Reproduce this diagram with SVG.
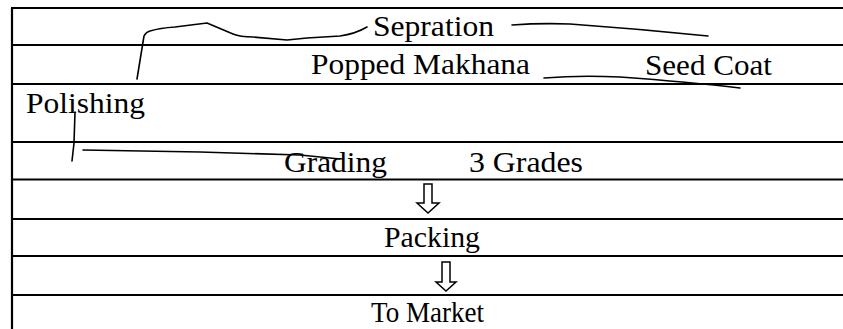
<svg xmlns="http://www.w3.org/2000/svg" width="843" height="329" viewBox="0 0 843 329">
<style>
.t{font-family:"Liberation Serif","Times New Roman",serif;font-size:29px;fill:#000}
.rule{stroke:#000;stroke-width:2.2;fill:none}
.pen{stroke:#000;stroke-width:1.6;fill:none;stroke-linecap:round;stroke-linejoin:round}
.arr{stroke:#000;stroke-width:1.5;fill:#fff;stroke-linejoin:miter}
</style>
<rect width="843" height="329" fill="#fff"/>
<g id="table">
<path class="rule" d="M12 8V329M11 8H843M11 45H843M11 84H843M11 142H843M11 179.5H843M11 219H843M11 256H843M11 295H843"/>
</g>
<g id="sepration"><text class="t" x="373" y="36" textLength="121" lengthAdjust="spacingAndGlyphs">Sepration</text></g>
<g id="popped-makhana"><text class="t" x="311" y="74" textLength="219" lengthAdjust="spacingAndGlyphs">Popped Makhana</text></g>
<g id="seed-coat"><text class="t" x="645" y="75" textLength="127" lengthAdjust="spacingAndGlyphs">Seed Coat</text></g>
<g id="polishing"><text class="t" x="26" y="113" textLength="119" lengthAdjust="spacingAndGlyphs">Polishing</text></g>
<g id="grading"><text class="t" x="284" y="172" textLength="103" lengthAdjust="spacingAndGlyphs">Grading</text></g>
<g id="three-grades"><text class="t" x="469" y="172" textLength="114" lengthAdjust="spacingAndGlyphs">3 Grades</text></g>
<g id="packing"><text class="t" x="384" y="247" textLength="96" lengthAdjust="spacingAndGlyphs">Packing</text></g>
<g id="to-market"><text class="t" x="371" y="322" textLength="113" lengthAdjust="spacingAndGlyphs">To Market</text></g>
<g id="connectors">
<path class="pen" d="M137 79L144 36Q146 32 150 31Q160 28 175 27L207 23L233 34Q240 37 253 37L287 40L307 38L340 36Q355 34 367 27"/>
<path class="pen" d="M512 25Q540 23 570 24Q640 29 708 36"/>
<path class="pen" d="M544 78Q580 75 620 77Q690 82 740 88"/>
<path class="pen" d="M75 112L74 143L72 161"/>
<path class="pen" d="M83 150L200 152L300 155L340 159"/>
<path class="arr" d="M424 184H432V203H439L428 213L417 203H424Z"/>
<path class="arr" d="M442 262H450V282H456L446 291L436 282H442Z"/>
</g>
</svg>
